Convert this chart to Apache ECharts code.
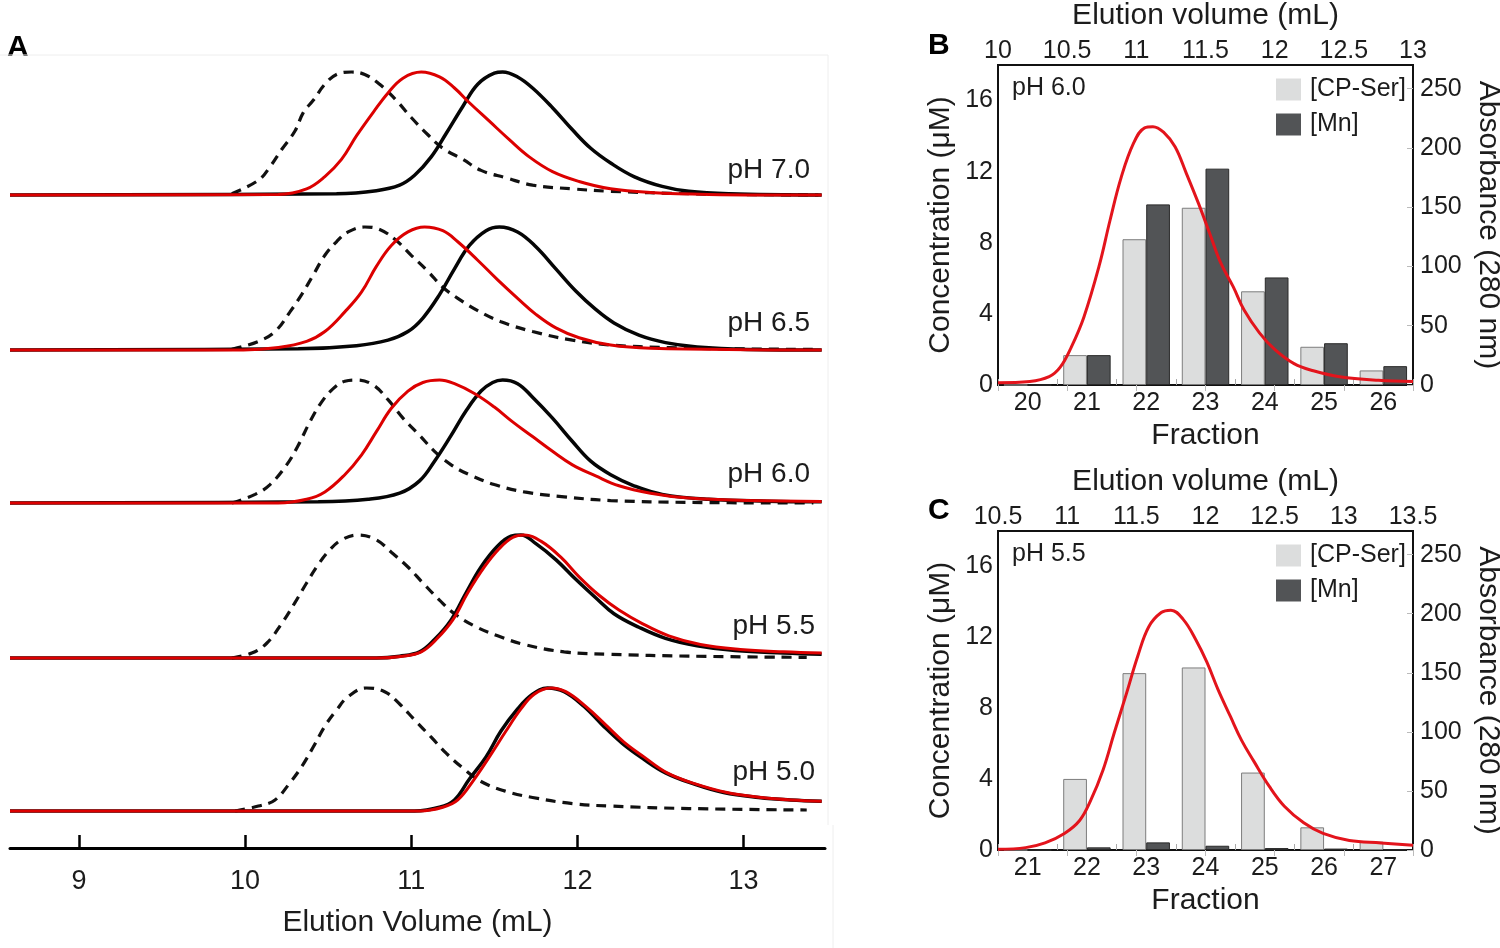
<!DOCTYPE html>
<html><head><meta charset="utf-8">
<script src="https://cdn.jsdelivr.net/npm/echarts@6/dist/echarts.min.js"></script>
<style>html,body{margin:0;padding:0;background:#fff}#c{width:1500px;height:948px}</style>
</head><body><div id="c"></div>
<script>
// ---------- Panel A: normalized elution profiles [volume mL, relative signal] ----------
const dashed70 = [[9.92,0.01],[10.08,0.12],[10.15,0.23],[10.22,0.37],[10.30,0.52],[10.35,0.67],[10.41,0.77],[10.48,0.90],[10.55,0.98],[10.64,1.0],[10.72,0.98],[10.81,0.90],[10.91,0.77],[11.00,0.63],[11.10,0.49],[11.19,0.38],[11.31,0.29],[11.42,0.20],[11.57,0.14],[11.73,0.08],[11.97,0.05],[12.20,0.03],[12.67,0.01],[12.91,0.005],[13.45,0]];
const red70 = [[8.585,0],[10.20,0.005],[10.37,0.05],[10.48,0.15],[10.58,0.29],[10.67,0.48],[10.77,0.67],[10.86,0.83],[10.95,0.95],[11.06,1.0],[11.17,0.96],[11.26,0.87],[11.35,0.75],[11.47,0.60],[11.59,0.45],[11.71,0.31],[11.85,0.19],[12.01,0.11],[12.20,0.05],[12.44,0.02],[12.79,0.005],[13.47,0]];
const black70 = [[8.585,0],[10.55,0.01],[10.79,0.035],[10.93,0.08],[11.02,0.16],[11.12,0.31],[11.21,0.50],[11.31,0.72],[11.40,0.90],[11.50,0.99],[11.55,1.0],[11.64,0.96],[11.73,0.87],[11.85,0.71],[11.97,0.53],[12.08,0.38],[12.20,0.26],[12.34,0.15],[12.51,0.07],[12.67,0.03],[12.91,0.01],[13.47,0]];

const dashed65 = [[9.92,0.005],[10.08,0.07],[10.18,0.15],[10.27,0.31],[10.34,0.45],[10.41,0.61],[10.48,0.77],[10.55,0.88],[10.62,0.96],[10.72,1.0],[10.81,0.98],[10.91,0.89],[11.00,0.77],[11.10,0.64],[11.19,0.51],[11.28,0.42],[11.40,0.32],[11.54,0.23],[11.73,0.15],[11.97,0.08],[12.20,0.04],[12.55,0.02],[12.91,0.01],[13.42,0.005]];
const red65 = [[8.585,0],[9.99,0],[10.20,0.02],[10.37,0.07],[10.48,0.15],[10.60,0.31],[10.70,0.47],[10.79,0.68],[10.88,0.85],[10.98,0.96],[11.08,1.0],[11.19,0.97],[11.28,0.88],[11.40,0.73],[11.52,0.57],[11.64,0.42],[11.75,0.29],[11.87,0.18],[12.01,0.10],[12.20,0.04],[12.44,0.015],[13.47,0]];
const black65 = [[8.585,0],[10.32,0.01],[10.67,0.035],[10.86,0.08],[10.98,0.15],[11.07,0.26],[11.17,0.45],[11.26,0.66],[11.35,0.85],[11.45,0.97],[11.53,1.0],[11.64,0.96],[11.75,0.84],[11.87,0.66],[11.99,0.48],[12.11,0.33],[12.22,0.22],[12.37,0.12],[12.53,0.06],[12.72,0.025],[13.02,0.005],[13.47,0]];

const dashed60 = [[9.92,0],[10.06,0.07],[10.15,0.15],[10.25,0.31],[10.32,0.47],[10.39,0.66],[10.46,0.82],[10.53,0.93],[10.60,0.99],[10.67,1.0],[10.77,0.96],[10.86,0.84],[10.95,0.69],[11.05,0.55],[11.14,0.42],[11.24,0.31],[11.35,0.23],[11.50,0.15],[11.68,0.09],[11.92,0.05],[12.20,0.02],[12.67,0.005],[13.42,0]];
const red60 = [[8.585,0],[10.20,0],[10.37,0.03],[10.48,0.09],[10.60,0.23],[10.70,0.39],[10.79,0.58],[10.88,0.77],[10.98,0.91],[11.07,0.98],[11.17,1.0],[11.26,0.97],[11.38,0.89],[11.50,0.78],[11.61,0.66],[11.73,0.54],[11.85,0.42],[11.97,0.31],[12.11,0.22],[12.25,0.14],[12.44,0.08],[12.67,0.04],[13.02,0.02],[13.47,0.013]];
const black60 = [[8.585,0],[10.44,0.01],[10.74,0.03],[10.93,0.08],[11.05,0.18],[11.14,0.34],[11.24,0.55],[11.33,0.75],[11.42,0.91],[11.49,0.98],[11.55,1.0],[11.64,0.97],[11.73,0.86],[11.85,0.69],[11.97,0.50],[12.08,0.34],[12.20,0.23],[12.34,0.14],[12.51,0.07],[12.79,0.03],[13.14,0.015],[13.47,0.01]];

const dashed55 = [[9.92,0],[10.04,0.04],[10.13,0.12],[10.22,0.28],[10.30,0.45],[10.37,0.61],[10.44,0.76],[10.51,0.88],[10.58,0.96],[10.68,1.0],[10.79,0.96],[10.88,0.86],[10.98,0.74],[11.07,0.61],[11.17,0.47],[11.26,0.36],[11.38,0.26],[11.52,0.18],[11.68,0.11],[11.92,0.05],[12.20,0.03],[12.67,0.015],[13.38,0.005]];
const black55 = [[8.585,0],[10.79,0],[10.93,0.015],[11.05,0.05],[11.14,0.15],[11.24,0.31],[11.33,0.53],[11.42,0.74],[11.52,0.91],[11.60,0.99],[11.66,1.0],[11.75,0.93],[11.87,0.80],[11.99,0.64],[12.11,0.49],[12.22,0.36],[12.37,0.25],[12.53,0.16],[12.72,0.10],[12.95,0.06],[13.24,0.04],[13.47,0.03]];
const red55 = [[8.585,0],[10.79,0],[10.95,0.015],[11.06,0.05],[11.15,0.15],[11.25,0.31],[11.34,0.53],[11.44,0.74],[11.53,0.89],[11.61,0.98],[11.68,1.0],[11.78,0.95],[11.90,0.82],[12.01,0.66],[12.13,0.51],[12.25,0.39],[12.39,0.28],[12.55,0.18],[12.74,0.11],[12.98,0.07],[13.24,0.05],[13.47,0.04]];

const dashed50 = [[9.94,0],[10.08,0.04],[10.18,0.09],[10.27,0.23],[10.34,0.36],[10.41,0.52],[10.48,0.69],[10.55,0.82],[10.62,0.93],[10.73,1.0],[10.84,0.97],[10.93,0.87],[11.02,0.74],[11.12,0.60],[11.21,0.47],[11.31,0.35],[11.42,0.24],[11.57,0.16],[11.73,0.11],[11.97,0.06],[12.20,0.04],[12.67,0.02],[13.38,0.008]];
const black50 = [[8.585,0],[11.02,0],[11.17,0.03],[11.26,0.09],[11.35,0.26],[11.45,0.44],[11.54,0.65],[11.64,0.83],[11.73,0.95],[11.82,1.0],[11.92,0.97],[12.04,0.85],[12.15,0.70],[12.27,0.55],[12.39,0.43],[12.53,0.31],[12.70,0.22],[12.88,0.15],[13.09,0.11],[13.28,0.09],[13.47,0.08]];
const red50 = [[8.585,0],[11.05,0],[11.19,0.03],[11.28,0.09],[11.38,0.26],[11.47,0.44],[11.57,0.65],[11.66,0.83],[11.74,0.95],[11.84,1.0],[11.93,0.97],[12.05,0.85],[12.17,0.70],[12.28,0.56],[12.40,0.44],[12.54,0.31],[12.71,0.22],[12.90,0.15],[13.11,0.11],[13.29,0.09],[13.47,0.08]];

const phLabelsA = ['pH 7.0','pH 6.5','pH 6.0','pH 5.5','pH 5.0'];
const tickValuesA = [9,10,11,12,13];

// ---------- Panel B (pH 6.0) ----------
const fractionsB = ['20','21','22','23','24','25','26'];
const cpSerB = [0, 1.68, 8.2, 9.97, 5.27, 2.15, 0.82];
const mnB = [0, 1.68, 10.16, 12.17, 6.05, 2.35, 1.06];
const absorbanceB = [[10.0,2],[10.23,3],[10.37,7],[10.45,15],[10.53,32],[10.62,57],[10.73,100],[10.81,139],[10.89,175],[10.98,204],[11.06,217],[11.12,218],[11.20,213],[11.28,201],[11.36,179],[11.45,153],[11.53,128],[11.61,103],[11.70,83],[11.78,63],[11.89,44],[12.00,30],[12.14,18],[12.28,12],[12.47,7],[12.75,4],[13.0,3]];

// ---------- Panel C (pH 5.5) ----------
const fractionsC = ['21','22','23','24','25','26','27'];
const cpSerC = [0, 4.01, 9.98, 10.3, 4.37, 1.28, 0.47];
const mnC = [0, 0.15, 0.43, 0.24, 0.11, 0.08, 0.02];
const absorbanceC = [[10.5,0.6],[10.70,2],[10.84,6],[10.98,14],[11.09,25],[11.17,42],[11.26,68],[11.34,99],[11.43,133],[11.51,164],[11.59,189],[11.68,201],[11.75,203],[11.84,195],[11.93,178],[12.01,159],[12.09,136],[12.18,113],[12.26,93],[12.35,75],[12.46,54],[12.57,37],[12.71,23],[12.85,14],[13.04,8],[13.27,6],[13.5,4]];

const concTicks = [0,4,8,12,16];
const absTicks = [0,50,100,150,200,250];

// ---------- build ----------
const FONT = 'Liberation Sans, Arial, sans-serif';
const TXT = '#1c1c1c';
const aSets = [[dashed70,black70,red70],[dashed65,black65,red65],[dashed60,black60,red60],[dashed55,black55,red55],[dashed50,black50,red50]];
const aTops = [72, 227, 380, 535, 688];
const aLabelY = [170, 323, 474, 626, 772];
const aLabelX = [810, 810, 810, 815, 815];

const grid = [];
const xAxis = [];
const yAxis = [];
const series = [];
const graphic = [];

aSets.forEach((set, i) => {
  grid.push({left: 10, top: aTops[i], width: 815, height: 123, containLabel: false, outerBoundsMode: 'none'});
  const isLast = i === aSets.length - 1;
  xAxis.push({
    type: 'value', gridIndex: i, min: 8.585, max: 13.49, show: isLast,
    offset: isLast ? 37 : 0, position: 'bottom',
    axisLine: {show: true, onZero: false, lineStyle: {color: '#000', width: 3}},
    axisTick: {show: true, inside: true, length: 13, lineStyle: {color: '#000', width: 2.5}, customValues: tickValuesA},
    axisLabel: {customValues: tickValuesA, fontSize: 27, color: TXT, margin: 20, fontFamily: FONT},
    splitLine: {show: false},
    name: isLast ? 'Elution Volume (mL)' : '', nameLocation: 'middle', nameGap: 60,
    nameTextStyle: {fontSize: 30, color: TXT, fontFamily: FONT}
  });
  yAxis.push({type: 'value', gridIndex: i, min: 0, max: 1, show: false, splitLine: {show: false}});
  const [d, b, r] = set;
  series.push({type: 'line', xAxisIndex: i, yAxisIndex: i, data: d, symbol: 'none', smooth: 0.4, clip: false, silent: true,
    lineStyle: {color: '#111', width: 3.2, type: [10, 7]}});
  series.push({type: 'line', xAxisIndex: i, yAxisIndex: i, data: b, symbol: 'none', smooth: 0.4, clip: false, silent: true,
    lineStyle: {color: '#050505', width: 3.5}});
  series.push({type: 'line', xAxisIndex: i, yAxisIndex: i, data: r, symbol: 'none', smooth: 0.4, clip: false, silent: true,
    lineStyle: {color: '#dc0000', width: 3}});
  graphic.push({type: 'text', x: aLabelX[i], y: aLabelY[i], style: {text: phLabelsA[i], font: '28px ' + FONT, fill: TXT, textAlign: 'right', textVerticalAlign: 'middle'}});
});

function addBarPanel(gIdx, top, height, fractions, cp, mn, abs, volMin, volMax, phText, legendTop) {
  grid.push({left: 998, top: top, width: 415, height: height, show: true, borderColor: '#111', borderWidth: 2, backgroundColor: 'transparent', containLabel: false, outerBoundsMode: 'none'});
  const xb = xAxis.length;
  xAxis.push({
    type: 'category', gridIndex: gIdx, data: fractions, position: 'bottom',
    axisLine: {show: false}, axisTick: {show: true, inside: true, length: 6, lineStyle: {color: '#aaa'}},
    axisLabel: {fontSize: 25, color: TXT, margin: 6, fontFamily: FONT},
    splitLine: {show: false},
    name: 'Fraction', nameLocation: 'middle', nameGap: 36, nameTextStyle: {fontSize: 30, color: TXT, fontFamily: FONT}
  });
  const xt = xAxis.length;
  xAxis.push({
    type: 'value', gridIndex: gIdx, position: 'top', min: volMin, max: volMax, interval: 0.5,
    axisLine: {show: false}, axisTick: {show: true, inside: true, length: 6, lineStyle: {color: '#bbb'}},
    axisLabel: {fontSize: 25, color: TXT, margin: 1, fontFamily: FONT, showMinLabel: true, showMaxLabel: true},
    splitLine: {show: false},
    name: 'Elution volume (mL)', nameLocation: 'middle', nameGap: 34, nameTextStyle: {fontSize: 30, color: TXT, fontFamily: FONT}
  });
  const yl = yAxis.length;
  yAxis.push({
    type: 'value', gridIndex: gIdx, position: 'left', min: 0, max: 18,
    axisLine: {show: false}, axisTick: {show: false},
    axisLabel: {customValues: concTicks, fontSize: 25, color: TXT, margin: 5, fontFamily: FONT},
    splitLine: {show: false},
    name: 'Concentration (μM)', nameLocation: 'middle', nameGap: 42, nameTextStyle: {fontSize: 30, color: TXT, fontFamily: FONT}
  });
  const yr = yAxis.length;
  yAxis.push({
    type: 'value', gridIndex: gIdx, position: 'right', min: 0, max: 270,
    axisLine: {show: false}, axisTick: {show: true, inside: true, length: 6, customValues: absTicks, lineStyle: {color: '#bbb'}},
    axisLabel: {customValues: absTicks, fontSize: 25, color: TXT, margin: 7, fontFamily: FONT},
    splitLine: {show: false},
    name: 'Absorbance (280 nm)', nameLocation: 'middle', nameRotate: -90, nameGap: 60, nameTextStyle: {fontSize: 30, color: TXT, fontFamily: FONT}
  });
  series.push({type: 'bar', name: '[CP-Ser]', xAxisIndex: xb, yAxisIndex: yl, data: cp, barWidth: '40%', barGap: '0%',
    itemStyle: {color: '#dcdddd', borderColor: '#7d7d7d', borderWidth: 1}, silent: true});
  series.push({type: 'bar', name: '[Mn]', xAxisIndex: xb, yAxisIndex: yl, data: mn, barWidth: '40%', barGap: '0%',
    itemStyle: {color: '#525456', borderColor: '#2a2a2a', borderWidth: 1}, silent: true});
  series.push({type: 'line', name: 'A280', xAxisIndex: xt, yAxisIndex: yr, data: abs, symbol: 'none', smooth: 0.4, z: 5, silent: true,
    lineStyle: {color: '#e3141c', width: 3}});
  graphic.push({type: 'text', x: 1012, y: top + 23, style: {text: phText, font: '25px ' + FONT, fill: TXT, textAlign: 'left', textVerticalAlign: 'middle'}});
  return {
    data: ['[CP-Ser]', '[Mn]'], left: 1271, top: legendTop, orient: 'vertical', icon: 'rect',
    itemWidth: 25, itemHeight: 22, itemGap: 10, selectedMode: false,
    itemStyle: {borderWidth: 0},
    textStyle: {fontSize: 25, color: TXT, fontFamily: FONT, padding: [0, 0, 0, 4]}
  };
}

const legendB = addBarPanel(5, 65, 320, fractionsB, cpSerB, mnB, absorbanceB, 10, 13, 'pH 6.0', 72);
const legendC = addBarPanel(6, 531, 319, fractionsC, cpSerC, mnC, absorbanceC, 10.5, 13.5, 'pH 5.5', 538);

graphic.push({type: 'text', x: 7, y: 48, style: {text: 'A', font: 'bold 30px ' + FONT, fill: '#000', textVerticalAlign: 'middle'}});
graphic.push({type: 'text', x: 928, y: 46, style: {text: 'B', font: 'bold 30px ' + FONT, fill: '#000', textVerticalAlign: 'middle'}});
graphic.push({type: 'text', x: 928, y: 511, style: {text: 'C', font: 'bold 30px ' + FONT, fill: '#000', textVerticalAlign: 'middle'}});
graphic.push({type: 'line', shape: {x1: 0, y1: 55, x2: 828, y2: 55}, style: {stroke: '#eeeeee', lineWidth: 1}});
graphic.push({type: 'line', shape: {x1: 828, y1: 55, x2: 828, y2: 825}, style: {stroke: '#eeeeee', lineWidth: 1}});
graphic.push({type: 'line', shape: {x1: 833, y1: 825, x2: 833, y2: 948}, style: {stroke: '#eeeeee', lineWidth: 1}});

const chart = echarts.init(document.getElementById('c'), null, {renderer: 'canvas'});
chart.setOption({
  animation: false,
  backgroundColor: '#ffffff',
  textStyle: {fontFamily: FONT},
  grid: grid,
  xAxis: xAxis,
  yAxis: yAxis,
  legend: [legendB, legendC],
  series: series,
  graphic: graphic
});
</script></body></html>
